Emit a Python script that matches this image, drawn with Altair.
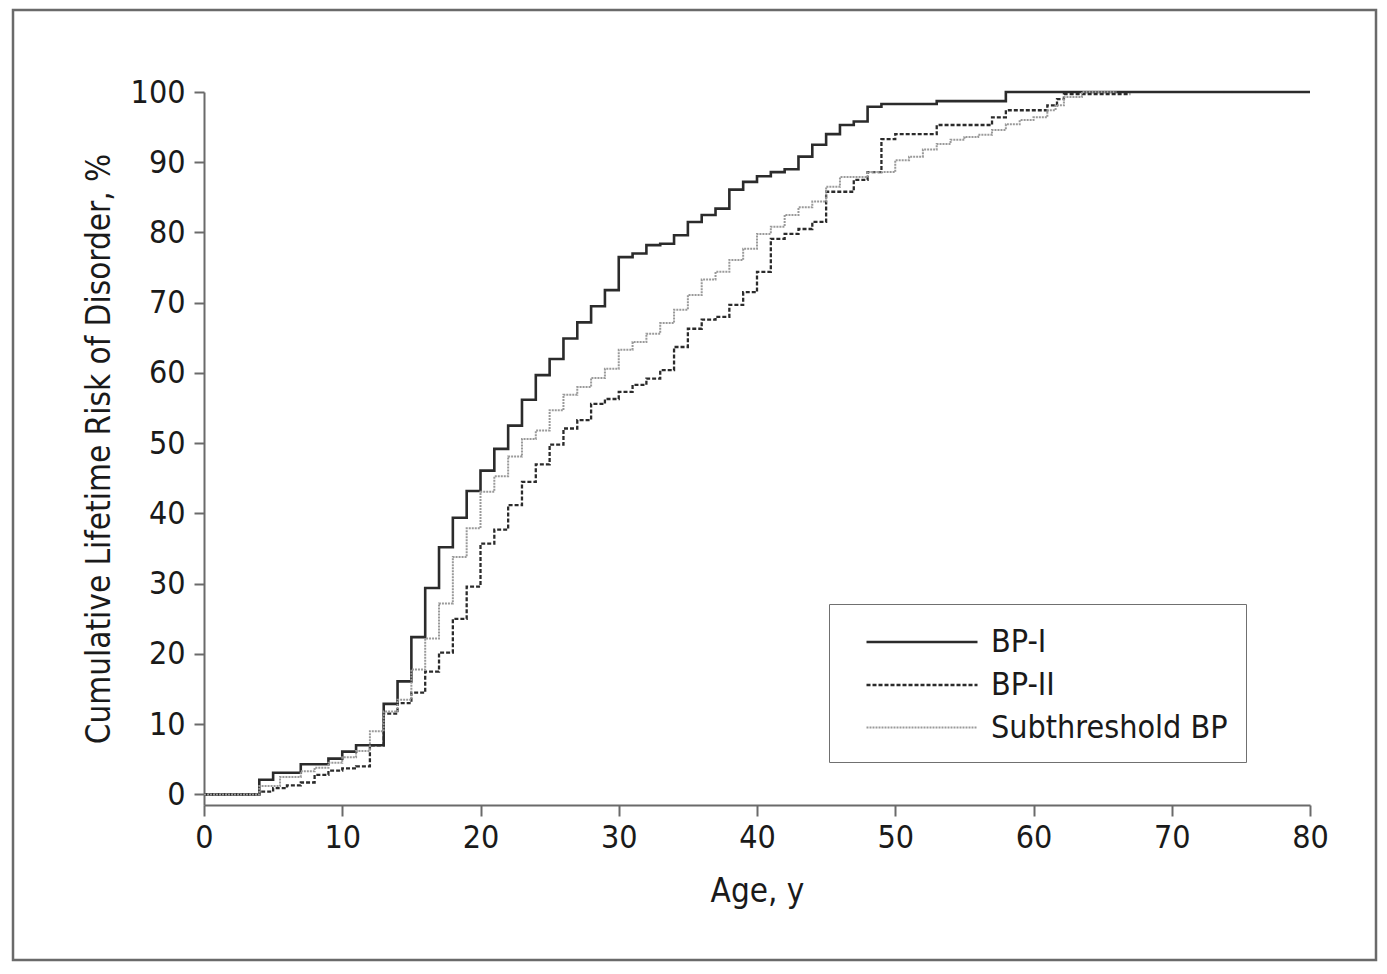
import altair as alt
import pandas as pd

# ---- data (age in years, cumulative %) ----
bp1_age = [0, 4, 5, 7, 9, 10, 11, 13, 14, 15, 16, 17, 18, 19, 20, 21, 22, 23, 24, 25, 26,
           27, 28, 29, 30, 31, 32, 33, 34, 35, 36, 37, 38, 39, 40, 41, 42, 43, 44, 45,
           46, 47, 48, 49, 53, 58, 80]
bp1_val = [0, 2.1, 3.1, 4.3, 5.1, 6.1, 7.0, 12.9, 16.1, 22.4, 29.4, 35.2, 39.4, 43.2,
           46.1, 49.2, 52.5, 56.2, 59.7, 62.0, 64.9, 67.2, 69.5, 71.8, 76.5, 77.0, 78.2,
           78.4, 79.6, 81.5, 82.5, 83.4, 86.1, 87.2, 88.0, 88.6, 89.0, 90.8, 92.5, 94.0,
           95.3, 95.8, 97.9, 98.3, 98.7, 100, 100]

bp2_age = [0, 4, 5, 6, 7, 8, 9, 10, 11, 12, 13, 14, 15, 16, 17, 18, 19, 20, 21, 22, 23,
           24, 25, 26, 27, 28, 29, 30, 31, 32, 33, 34, 35, 36, 37, 38, 39, 40, 41, 42,
           43, 44, 45, 47, 48, 49, 50, 53, 57, 58, 61, 61.7, 62.2, 67]
bp2_val = [0, 0.4, 0.9, 1.3, 1.7, 2.8, 3.4, 3.7, 4.0, 7.0, 11.5, 13.0, 14.5, 17.5, 20.2,
           25.0, 29.6, 35.7, 37.7, 41.2, 44.5, 47.0, 49.8, 52.1, 53.3, 55.6, 56.3, 57.3,
           58.3, 59.2, 60.4, 63.7, 66.3, 67.6, 68.0, 69.7, 71.5, 74.4, 79.1, 79.8, 80.5,
           81.5, 85.8, 87.5, 88.6, 93.3, 94.0, 95.3, 96.4, 97.4, 98.1, 99.0, 99.7, 99.7]

sub_age = [0, 4, 5.5, 7, 8, 9, 10, 11, 12, 13, 14, 15, 16, 17, 18, 19, 20, 21, 22, 23,
           24, 25, 26, 27, 28, 29, 30, 31, 32, 33, 34, 35, 36, 37, 38, 39, 40, 41, 42,
           43, 44, 45, 46, 48, 50, 51, 52, 53, 54, 55, 56, 57, 58, 59, 60, 61, 61.6,
           62.2, 63.5, 66]
sub_val = [0, 1.2, 2.5, 3.3, 3.8, 4.5, 5.3, 6.2, 9.0, 11.8, 13.5, 17.8, 22.2, 27.2, 33.8,
           37.9, 43.1, 45.3, 48.1, 50.6, 51.8, 54.7, 56.9, 58.0, 59.3, 60.6, 63.3, 64.4,
           65.6, 67.1, 69.0, 71.1, 73.3, 74.4, 76.1, 77.7, 79.8, 80.8, 82.5, 83.6, 84.4,
           86.5, 87.9, 88.6, 90.3, 90.8, 91.8, 92.6, 93.2, 93.6, 93.9, 94.6, 95.4, 96.0,
           96.4, 97.4, 98.1, 99.3, 100, 100]

series = ["BP-I", "BP-II", "Subthreshold BP"]
x_ticks = [0, 10, 20, 30, 40, 50, 60, 70, 80]
y_ticks = [0, 10, 20, 30, 40, 50, 60, 70, 80, 90, 100]

rows = []
for name, ages, vals in [(series[0], bp1_age, bp1_val),
                         (series[1], bp2_age, bp2_val),
                         (series[2], sub_age, sub_val)]:
    for i, (a, v) in enumerate(zip(ages, vals)):
        rows.append({"group": name, "age": a, "risk": v, "order": i})
df = pd.DataFrame(rows)

FONT = "Liberation Sans Narrow, DejaVu Sans Condensed, Arial Narrow, sans-serif"

lines = alt.Chart(df).mark_line(interpolate="step-after").encode(
    x=alt.X("age:Q", scale=alt.Scale(domain=[0, 80], nice=False),
            axis=alt.Axis(values=x_ticks, title="Age, y", grid=False, labelFlush=False,
                          tickSize=11, labelPadding=6, titlePadding=22)),
    y=alt.Y("risk:Q", scale=alt.Scale(domain=[-1.5, 100], nice=False, zero=False),
            axis=alt.Axis(values=y_ticks, title="Cumulative Lifetime Risk of Disorder, %",
                          grid=False, labelFlush=False, tickSize=10, labelPadding=9,
                          titlePadding=14)),
    order="order:Q",
    color=alt.Color("group:N", scale=alt.Scale(domain=series,
                                               range=["#2b2b2b", "#2b2b2b", "#9a9a9a"]),
                    legend=alt.Legend(title=None, orient="none", legendX=625, legendY=512,
                                      symbolType="M-1,0H5", symbolSize=1369,
                                      symbolOffset=18, symbolStrokeWidth=2,
                                      labelFontSize=32, labelFont=FONT, labelColor="#1a1a1a",
                                      labelOffset=86, labelLimit=0, rowPadding=7, padding=18,
                                      strokeColor="#707070", fillColor="white")),
    strokeDash=alt.StrokeDash("group:N", scale=alt.Scale(domain=series,
                                                         range=[[1, 0], [4, 2], [2, 1]]),
                              legend=None),
    strokeWidth=alt.StrokeWidth("group:N", scale=alt.Scale(domain=series,
                                                           range=[2.6, 2.0, 1.5]),
                                legend=None),
)

frame = alt.Chart(pd.DataFrame({"k": [0]})).mark_rect(
    fill=None, stroke="#6a6a6a", strokeWidth=2.5
).encode(x=alt.value(-191), x2=alt.value(1172), y=alt.value(-82), y2=alt.value(868))

chart = alt.layer(frame, lines).properties(
    width=1106, height=713, padding={"left": 3, "top": 0, "right": 0, "bottom": 0}
).configure_view(stroke=None).configure_axis(
    domainColor="#6a6a6a", domainWidth=2, tickColor="#6a6a6a", tickWidth=2,
    labelFont=FONT, labelFontSize=32, labelColor="#1a1a1a",
    titleFont=FONT, titleFontSize=33, titleColor="#1a1a1a", titleFontWeight="normal"
)

chart.save("out.html", embed_options={"renderer": "svg", "actions": False})
